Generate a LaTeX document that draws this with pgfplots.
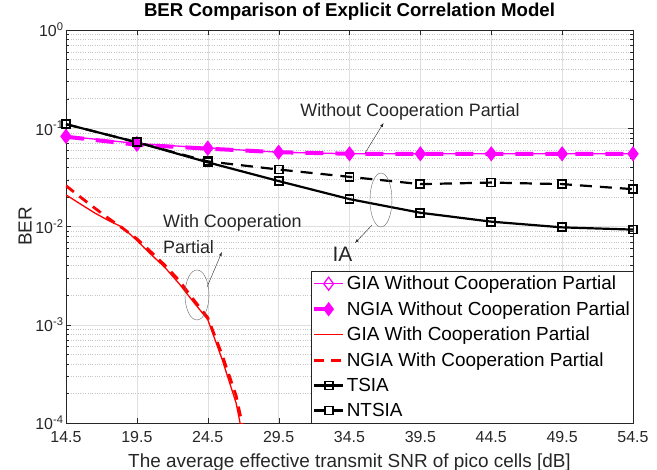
\documentclass[border=0pt]{standalone}
\usepackage{pgfplots}
\pgfplotsset{compat=1.18}
\usepackage{fontspec}
\setmainfont{Liberation Sans}

\definecolor{axgray}{rgb}{0.15,0.15,0.15}
\definecolor{mag}{rgb}{1,0,1}

\begin{document}
\begin{tikzpicture}
\begin{axis}[
    name=ax,
    width=567bp, height=393bp, scale only axis,
    ymode=log,
    xmin=14.5, xmax=54.5,
    ymin=1e-4, ymax=1,
    xtick={14.5,19.5,24.5,29.5,34.5,39.5,44.5,49.5,54.5},
    xticklabels={14.5,19.5,24.5,29.5,34.5,39.5,44.5,49.5,54.5},
    ytick={1e-4,1e-3,1e-2,1e-1,1},
    yticklabels={10\textsuperscript{-4},10\textsuperscript{-3},10\textsuperscript{-2},10\textsuperscript{-1},10\textsuperscript{0}},
    tick label style={font=\fontsize{16}{17}\selectfont, text=axgray},
    xticklabel style={yshift=-5bp},
    yticklabel style={xshift=1bp},
    title={\bfseries BER Comparison of Explicit Correlation Model},
    title style={font=\fontsize{18.7}{19}\selectfont, at={(0.5,1)}, anchor=base, yshift=8bp},
    xlabel={The average effective transmit SNR of pico cells [dB]},
    ylabel={BER},
    label style={font=\fontsize{19}{20}\selectfont, text=axgray},
    xlabel style={at={(0.5,0)}, anchor=base, yshift=-44bp},
    ylabel style={at={(axis description cs:-0.072,0.5)}, anchor=center},
    axis line style={axgray},
    tick style={axgray},
    major tick length=5bp,
    minor tick length=3bp,
    xmajorgrids, ymajorgrids, yminorgrids,
    major grid style={gray!25},
    minor grid style={gray!45, dotted},
    legend style={at={(1,0)}, anchor=south east,
        font=\fontsize{19}{20}\selectfont,
        draw=axgray, fill=white, row sep=6.3bp,
        inner xsep=1bp, inner ysep=3bp},
    legend cell align=left,
    legend image code/.code={\draw[mark repeat=2,mark phase=2,#1] plot coordinates {(0cm,0cm) (0.5cm,0cm) (1.0cm,0cm)};},
]

% GIA without cooperation
\addplot[mag, line width=1.3bp, mark=diamond, mark size=6.5bp, mark options={solid, line width=1.3bp}]
coordinates {(14.5,0.083)(19.5,0.070)(24.5,0.063)(29.5,0.057)(34.5,0.055)(39.5,0.055)(44.5,0.055)(49.5,0.055)(54.5,0.055)};
\addlegendentry{GIA Without Cooperation Partial}

% NGIA without cooperation
\addplot[mag, line width=4bp, dash pattern=on 18bp off 12bp, mark=diamond*, mark size=6bp, mark options={solid, line width=1.5bp}]
coordinates {(14.5,0.082)(19.5,0.068)(24.5,0.062)(29.5,0.057)(34.5,0.055)(39.5,0.055)(44.5,0.055)(49.5,0.055)(54.5,0.055)};
\addlegendentry{NGIA Without Cooperation Partial}

% GIA with cooperation
\addplot[red, line width=1.3bp]
coordinates {(14.5,0.021)(15.5,0.017)(16.5,0.0138)(17.5,0.0115)(18.5,0.0098)(19.5,0.0072)(20.5,0.0052)(21.5,0.0038)(22.5,0.0026)(23.5,0.0017)(24.5,0.00113)(25.5,0.00045)(26.5,0.00016)(27.5,0.00003)};
\addlegendentry{GIA With Cooperation Partial}

% NGIA with cooperation
\addplot[red, line width=2.8bp, dash pattern=on 10bp off 7bp]
coordinates {(14.5,0.026)(15.5,0.020)(16.5,0.0155)(17.5,0.0121)(18.5,0.0096)(19.5,0.0075)(20.5,0.0055)(21.5,0.0040)(22.5,0.0028)(23.5,0.0018)(24.5,0.00118)(25.5,0.0005)(26.5,0.00019)(27.5,0.00004)};
\addlegendentry{NGIA With Cooperation Partial}

% TSIA
\addplot[black, line width=2.2bp, mark=square, mark size=4bp, mark options={solid, line width=1.8bp}]
coordinates {(14.5,0.11)(19.5,0.072)(24.5,0.045)(29.5,0.029)(34.5,0.019)(39.5,0.0138)(44.5,0.0112)(49.5,0.0098)(54.5,0.0093)};
\addlegendentry{TSIA}

% NTSIA
\addplot[black, line width=2.2bp, dash pattern=on 12bp off 8bp, mark=square, mark size=4bp, mark options={solid, line width=1.8bp}]
coordinates {(14.5,0.11)(19.5,0.072)(24.5,0.046)(29.5,0.038)(34.5,0.032)(39.5,0.027)(44.5,0.028)(49.5,0.027)(54.5,0.024)};
\addlegendentry{NTSIA}

% annotations
\node[font=\fontsize{18}{19}\selectfont, text=axgray] at (axis cs:38.77,0.146) {Without Cooperation Partial};
\draw[-latex, axgray, thin] (axis cs:35.6,0.056) -- (axis cs:36.9,0.113);

\node[font=\fontsize{18}{19}\selectfont, text=axgray, anchor=west, inner xsep=0pt] at (axis cs:21.34,0.01086) {With Cooperation};
\node[font=\fontsize{18}{19}\selectfont, text=axgray, anchor=west, inner xsep=0pt] at (axis cs:21.34,0.00618) {Partial};
\draw[-latex, axgray, thin] (axis cs:24.45,0.00242) -- (axis cs:25.5,0.0055);
\draw[gray!80!black, thin] (axis cs:23.74,0.00201) ellipse [x radius=12bp, y radius=25bp];

\draw[gray!80!black, thin] (axis cs:36.72,0.0186) ellipse [x radius=11bp, y radius=27bp];
\draw[-latex, axgray, thin] (axis cs:36.09,0.01035) -- (axis cs:34.89,0.00679);
\node[font=\fontsize{21}{22}\selectfont, text=axgray] at (axis cs:34.0,0.00525) {IA};

\end{axis}
\pgfresetboundingbox
\path ([xshift=-66bp,yshift=-47bp]ax.south west) rectangle ([xshift=24bp,yshift=30bp]ax.north east);
\end{tikzpicture}
\end{document}
